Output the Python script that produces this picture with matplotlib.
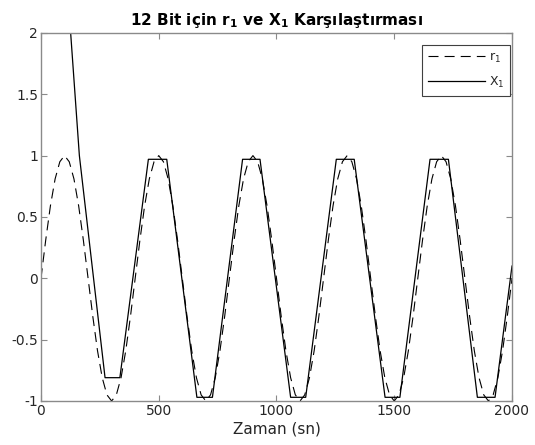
import matplotlib
matplotlib.use("Agg")
import matplotlib.pyplot as plt

# time axis for the reference signal r1 (every 20 s)
t_r = list(range(0, 2001, 20))
r1 = [
    0, 0.31, 0.59, 0.81, 0.95, 1.0, 0.95, 0.81, 0.59, 0.31,
    0, -0.31, -0.59, -0.81, -0.95, -1.0, -0.95, -0.81, -0.59, -0.31,
    0, 0.31, 0.59, 0.81, 0.95, 1.0, 0.95, 0.81, 0.59, 0.31,
    0, -0.31, -0.59, -0.81, -0.95, -1.0, -0.95, -0.81, -0.59, -0.31,
    0, 0.31, 0.59, 0.81, 0.95, 1.0, 0.95, 0.81, 0.59, 0.31,
    0, -0.31, -0.59, -0.81, -0.95, -1.0, -0.95, -0.81, -0.59, -0.31,
    0, 0.31, 0.59, 0.81, 0.95, 1.0, 0.95, 0.81, 0.59, 0.31,
    0, -0.31, -0.59, -0.81, -0.95, -1.0, -0.95, -0.81, -0.59, -0.31,
    0, 0.31, 0.59, 0.81, 0.95, 1.0, 0.95, 0.81, 0.59, 0.31,
    0, -0.31, -0.59, -0.81, -0.95, -1.0, -0.95, -0.81, -0.59, -0.31,
    0,
]

# 12 bit state X1 (breakpoints of the piecewise linear response)
t_x = [0, 163, 272, 335, 456, 534, 662, 728, 856, 930, 1060,
       1124, 1254, 1330, 1461, 1524, 1652, 1730, 1853, 1928, 2000]
x1 = [5.4, 1.0, -0.81, -0.81, 0.97, 0.97, -0.97, -0.97, 0.97, 0.97, -0.97,
      -0.97, 0.97, 0.97, -0.97, -0.97, 0.97, 0.97, -0.97, -0.97, 0.1]

x_ticks = [0, 500, 1000, 1500, 2000]
y_ticks = [-1, -0.5, 0, 0.5, 1, 1.5, 2]
y_tick_labels = ["-1", "-0.5", "0", "0.5", "1", "1.5", "2"]

fig = plt.figure(figsize=(5.35, 4.45), dpi=100)
ax = fig.add_axes([0.0766, 0.0989, 0.8804, 0.8271])

ax.plot(t_r, r1, color="black", lw=0.8, ls=(0, (9, 5.5)), label="r$_1$")
ax.plot(t_x, x1, color="black", lw=0.9, label="X$_1$")

ax.set_xlim(0, 2000)
ax.set_ylim(-1, 2)
ax.set_xticks(x_ticks)
ax.set_yticks(y_ticks)
ax.set_yticklabels(y_tick_labels)

axis_gray = "#8a8a8a"
for sp in ax.spines.values():
    sp.set_color(axis_gray)
    sp.set_linewidth(1.0)
ax.tick_params(direction="in", top=True, right=True, length=4,
               color=axis_gray, labelsize=10, labelcolor="#262626", pad=2)

ax.set_xlabel("Zaman (sn)", fontsize=11, color="#262626", labelpad=3)
ax.set_title("12 Bit için r$_\\mathbf{1}$ ve X$_\\mathbf{1}$ Karşılaştırması",
             fontsize=11, fontweight="bold", pad=6)

leg = ax.legend(loc="upper right", bbox_to_anchor=(0.996, 0.967),
                borderaxespad=0, fontsize=9, handlelength=4.6,
                fancybox=False, framealpha=1, labelspacing=0.8,
                handletextpad=0.3, borderpad=0.45)
leg.get_frame().set_edgecolor("#404040")
leg.get_frame().set_linewidth(0.8)
for txt in leg.get_texts():
    txt.set_color("#262626")

fig.savefig("out.png", dpi=100)
